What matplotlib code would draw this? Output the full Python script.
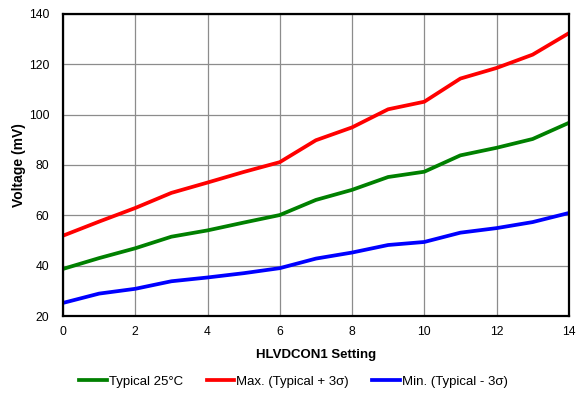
import matplotlib.pyplot as plt

plt.rcParams['font.family'] = ['Liberation Sans', 'DejaVu Sans']

setting = [0, 1, 2, 3, 4, 5, 6, 7, 8, 9, 10, 11, 12, 13, 14]
typical = [38.7, 43.0, 46.9, 51.5, 54.0, 57.1, 60.1, 66.1, 70.1, 75.2, 77.3, 83.8, 86.8, 90.3, 96.7]
maximum = [51.9, 57.5, 62.9, 68.9, 73.0, 77.2, 81.1, 89.8, 94.9, 102.1, 105.1, 114.3, 118.5, 123.8, 132.3]
minimum = [25.2, 28.9, 30.8, 33.8, 35.3, 37.0, 39.0, 42.8, 45.2, 48.2, 49.4, 53.1, 54.9, 57.3, 60.9]

fig = plt.figure(figsize=(5.78, 3.96), dpi=100)
ax = fig.add_axes([0.109, 0.202, 0.875, 0.763])

ax.plot(setting, typical, color='#008000', lw=2.7, label='Typical 25°C', solid_joinstyle='round')
ax.plot(setting, maximum, color='#FF0000', lw=2.7, label='Max. (Typical + 3σ)', solid_joinstyle='round')
ax.plot(setting, minimum, color='#0000FF', lw=2.7, label='Min. (Typical - 3σ)', solid_joinstyle='round')

ax.set_xlim(0, 14)
ax.set_ylim(20, 140)
ax.set_xticks(range(0, 15, 2))
ax.set_yticks(range(20, 141, 20))
ax.grid(True, color='#8c8c8c', lw=0.9)
ax.set_axisbelow(True)
for s in ax.spines.values():
    s.set_linewidth(1.6)
ax.tick_params(length=0, labelsize=8.7)
ax.tick_params(axis='y', pad=10)
ax.tick_params(axis='x', pad=7)

ax.set_xlabel('HLVDCON1 Setting', fontsize=9.5, fontweight='bold', labelpad=8)
ax.set_ylabel('Voltage (mV)', fontsize=10, fontweight='bold', labelpad=2)

fig.legend(loc='center', bbox_to_anchor=(0.508, 0.036), ncol=3, frameon=False,
           fontsize=9.5, handlelength=2.1, handletextpad=0.16, columnspacing=1.75)

fig.savefig('out.png', dpi=100)
